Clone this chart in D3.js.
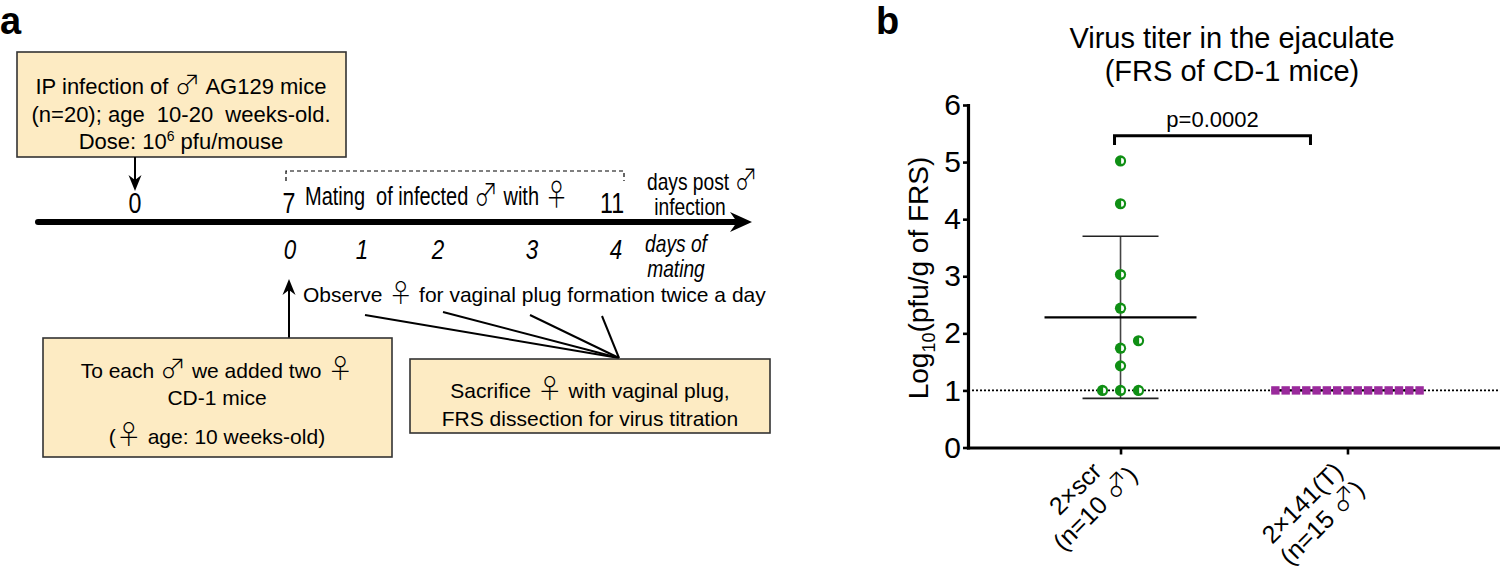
<!DOCTYPE html>
<html>
<head>
<meta charset="utf-8">
<script src="https://cdn.jsdelivr.net/npm/d3@7"></script>
<style>
body { margin: 0; background: #fff; }
text { font-family: "Liberation Sans", Arial, sans-serif; fill: #000; white-space: pre; }
.sym { font-family: "Noto Sans CJK JP", "DejaVu Sans", sans-serif; font-weight: 300; }
</style>
</head>
<body>
<svg id="fig" width="1500" height="572"></svg>
<script>
// ---- data (panel b) ----
var groupNames = ["2×scr", "2×141(T)"];
var groupLabels = [["2×scr", "(n=10 ♂)"], ["2×141(T)", "(n=15 ♂)"]];
var scrValues = [1.0, 1.0, 1.0, 1.43, 1.74, 1.87, 2.44, 3.03, 4.27, 5.02];
var t141Values = [1, 1, 1, 1, 1, 1, 1, 1, 1, 1, 1, 1, 1, 1, 1];
var yTicks = [0, 1, 2, 3, 4, 5, 6];
var detectionLimit = 1;
var pLabel = "p=0.0002";
var titleLines = ["Virus titer in the ejaculate", "(FRS of CD-1 mice)"];

// ---- text of the schematic (panel a) ----
var infectionLines = ["IP infection of ♂ AG129 mice", "(n=20); age  10-20  weeks-old.", "Dose: 10^6 pfu/mouse"];
var pairingLines = ["To each ♂ we added two ♀", "CD-1 mice", "(♀ age: 10 weeks-old)"];
var sacrificeLines = ["Sacrifice ♀ with vaginal plug,", "FRS dissection for virus titration"];
var matingDays = ["0", "1", "2", "3", "4"];

var svg = d3.select("#fig");

// writes a string into a text element, gender signs and ^superscripts as tspans
function richText(el, str, symSize) {
    var dy = 0;
    str.split(/([♂♀]|\^\d)/).forEach(function (s) {
        if (!s) return;
        var t;
        if (s === "♂" || s === "♀") {
            t = el.append("tspan").attr("class", "sym").style("font-size", symSize).text(s);
        } else if (s[0] === "^") {
            t = el.append("tspan").style("font-size", "14px").text(s.slice(1));
            dy -= 8;
        } else {
            t = el.append("tspan").text(s);
        }
        t.attr("dy", dy);
        dy = s[0] === "^" ? 8 : 0;
    });
    return el;
}

// condensed text, the schematic uses a narrow face
function narrowText(px, py, str, size, anchor, italic) {
    var t = svg.append("text").attr("transform", "translate(" + px + "," + py + ") scale(0.8,1)")
        .attr("text-anchor", anchor || "start").style("font-size", size);
    if (italic) t.style("font-style", "italic");
    return richText(t, str, (parseFloat(size) * 1.2) + "px");
}

function box(x0, y0, x1, y1) {
    svg.append("rect").attr("x", x0).attr("y", y0).attr("width", x1 - x0).attr("height", y1 - y0)
        .style("fill", "#fdebc3").style("stroke", "#333").style("stroke-width", 1.6);
}

function arrowHead(x, y, dir) {
    // dir: 1 points down, -1 points up, 0 points right
    var p = dir === 0 ? [[x, y], [x - 22, y - 10], [x - 15, y], [x - 22, y + 10]]
        : [[x, y], [x - 6.5, y - 16 * dir], [x, y - 11 * dir], [x + 6.5, y - 16 * dir]];
    svg.append("path").attr("d", "M" + p.join("L") + "Z").style("fill", "#000");
}

// ================= panel a =================
svg.append("text").attr("x", 0).attr("y", 34).style("font-size", "38px").style("font-weight", "bold").text("a");

box(17, 52, 346, 157);
infectionLines.forEach(function (l, i) {
    richText(svg.append("text").attr("x", 181).attr("y", 94 + i * 27.5).attr("text-anchor", "middle")
        .style("font-size", "22px"), l, "26px");
});
svg.append("line").attr("x1", 135).attr("x2", 135).attr("y1", 157).attr("y2", 186).style("stroke", "#000").style("stroke-width", 2);
arrowHead(135, 191, 1);

// main time line
svg.append("line").attr("x1", 38).attr("x2", 735).attr("y1", 222).attr("y2", 222)
    .style("stroke", "#000").style("stroke-width", 6).style("stroke-linecap", "round");
arrowHead(752, 222, 0);

// mating period bracket
svg.append("path").attr("d", "M286,181V171H624V181").style("fill", "none")
    .style("stroke", "#000").style("stroke-width", 1.2).style("stroke-dasharray", "4,3");

narrowText(135, 213, "0", "29px", "middle");
narrowText(289, 213, "7", "29px", "middle");
narrowText(305, 205, "Mating  of infected ♂ with ♀", "25px");
narrowText(612, 213, "11", "29px", "middle");
narrowText(647, 190, "days post ♂", "24px");
narrowText(690, 215, "infection", "24px", "middle");

var dayX = [290, 362, 438, 532, 616];
matingDays.forEach(function (d, i) {
    narrowText(dayX[i], 259, d, "28px", "middle", true);
});
narrowText(676, 252, "days of", "24px", "middle", true);
narrowText(676, 277, "mating", "24px", "middle", true);

// observation arrow and text
svg.append("line").attr("x1", 289).attr("x2", 289).attr("y1", 338).attr("y2", 290).style("stroke", "#000").style("stroke-width", 2);
arrowHead(289, 279, -1);
richText(svg.append("text").attr("x", 303).attr("y", 302).style("font-size", "21px"),
    "Observe ♀ for vaginal plug formation twice a day", "25px");

// fan of lines to the sacrifice box
[[365, 315], [443, 312], [530, 315], [602, 316]].forEach(function (p) {
    svg.append("line").attr("x1", p[0]).attr("y1", p[1]).attr("x2", 619).attr("y2", 358)
        .style("stroke", "#000").style("stroke-width", 2);
});

box(43, 338, 392, 457);
[378, 405, 444].forEach(function (y, i) {
    richText(svg.append("text").attr("x", 217).attr("y", y).attr("text-anchor", "middle").style("font-size", "21px"),
        pairingLines[i], "26px");
});

box(410, 359, 770, 433);
sacrificeLines.forEach(function (l, i) {
    richText(svg.append("text").attr("x", 590).attr("y", 398 + i * 28).attr("text-anchor", "middle").style("font-size", "21px"), l, "26px");
});

// ================= panel b =================
svg.append("text").attr("x", 876).attr("y", 34).style("font-size", "38px").style("font-weight", "bold").text("b");
titleLines.forEach(function (l, i) {
    svg.append("text").attr("x", 1232).attr("y", 48 + i * 33).attr("text-anchor", "middle").style("font-size", "29px").text(l);
});

var y = d3.scaleLinear().domain([0, 6]).range([447.5, 105]);
var x = d3.scalePoint().domain(groupNames).range([968, 1500]).padding(0.672);

// beeswarm-like spread of overlapping points
function swarm(values, step, minDist) {
    var placed = [];
    var order = [0];
    for (var i = 1; i < 20; i++) order.push(i, -i);
    return values.map(function (v) {
        var py = y(v), dx = 0;
        for (var k = 0; k < order.length; k++) {
            dx = order[k] * step;
            var ok = placed.every(function (p) { return Math.hypot(p.dx - dx, p.y - py) >= minDist; });
            if (ok) break;
        }
        placed.push({ dx: dx, y: py });
        return { v: v, dx: dx };
    });
}

var groups = [
    { name: groupNames[0], values: scrValues, pts: swarm(scrValues, 18, 12) },
    { name: groupNames[1], values: t141Values, pts: swarm(t141Values, 10.3, 10) }
];

// detection limit
svg.append("line").attr("x1", 968).attr("x2", 1500).attr("y1", y(detectionLimit)).attr("y2", y(detectionLimit))
    .style("stroke", "#000").style("stroke-width", 1.6).style("stroke-dasharray", "2,2");

// mean and SD
groups.forEach(function (g) {
    var cx = x(g.name), m = d3.mean(g.values), sd = d3.deviation(g.values);
    if (sd > 0) {
        svg.append("line").attr("x1", cx).attr("x2", cx).attr("y1", y(m - sd)).attr("y2", y(m + sd)).style("stroke", "#444").style("stroke-width", 1.6);
        [m - sd, m + sd].forEach(function (v) {
            svg.append("line").attr("x1", cx - 38).attr("x2", cx + 38).attr("y1", y(v)).attr("y2", y(v)).style("stroke", "#222").style("stroke-width", 1.6);
        });
    }
    svg.append("line").attr("x1", cx - 76).attr("x2", cx + 76).attr("y1", y(m)).attr("y2", y(m)).style("stroke", "#000").style("stroke-width", 2.2);
});

// points: half-open green circles and purple squares
var g1 = svg.append("g");
groups[0].pts.forEach(function (p) {
    var cx = x(groups[0].name) + p.dx, cy = y(p.v);
    g1.append("circle").attr("cx", cx).attr("cy", cy).attr("r", 5.6).style("fill", "#0f8f14");
    g1.append("path").attr("d", d3.arc()({ innerRadius: 0, outerRadius: 2.9, startAngle: 0, endAngle: Math.PI }))
        .attr("transform", "translate(" + (cx + 0.6) + "," + cy + ")").style("fill", "#fff");
});
var g2 = svg.append("g");
groups[1].pts.forEach(function (p) {
    var cx = x(groups[1].name) + p.dx, cy = y(p.v);
    g2.append("rect").attr("x", cx - 4.2).attr("y", cy - 4.2).attr("width", 8.4).attr("height", 8.4).style("fill", "#9a2a9c");
});

// axes
var yAxis = svg.append("g").attr("transform", "translate(968,0)")
    .call(d3.axisLeft(y).tickValues(yTicks).tickSize(5).tickSizeOuter(0).tickPadding(2).tickFormat(d3.format("d")));
var xAxis = svg.append("g").attr("transform", "translate(0," + y(0) + ")")
    .call(d3.axisBottom(x).tickSize(7).tickSizeOuter(0).tickFormat(""));
[yAxis, xAxis].forEach(function (a) {
    a.select(".domain").style("stroke-width", 3.2).style("stroke-linecap", "square");
    a.selectAll(".tick line").style("stroke-width", 2.6);
});
yAxis.selectAll(".tick text").style("font-size", "30px").style("font-family", "Liberation Sans, Arial, sans-serif");

// y label
var yl = svg.append("text").attr("transform", "translate(928,278) rotate(-90)").attr("text-anchor", "middle").style("font-size", "28px");
yl.append("tspan").text("Log");
yl.append("tspan").attr("dy", 7).style("font-size", "18px").text("10");
yl.append("tspan").attr("dy", -7).text("(pfu/g of FRS)");

// rotated category labels; the top-right of the line ends is pinned near each tick
groupLabels.forEach(function (lines, i) {
    var gl = svg.append("g").attr("transform", "rotate(-45)");
    lines.forEach(function (l, j) {
        richText(gl.append("text").attr("x", 0).attr("y", j * 28).attr("text-anchor", "middle").style("font-size", "25px"), l, "27px");
    });
    // measure only the last run of each line, so the tall sign glyph box does not count
    var rs = gl.selectAll("text").nodes().map(function (t) { return t.lastChild.getBoundingClientRect(); });
    var right = d3.max(rs, function (r) { return r.right; }), top = d3.min(rs, function (r) { return r.top; });
    var tx = x(groupNames[i]) + 22, ty = y(0) + 9;
    gl.attr("transform", "translate(" + (tx - right) + "," + (ty - top) + ") rotate(-45)");
});

// significance bracket
var bx0 = x(groupNames[0]) - 6, bx1 = x(groupNames[1]) - 37;
svg.append("path").attr("d", "M" + bx0 + "," + y(5.3) + "V" + y(5.46) + "H" + bx1 + "V" + y(5.3))
    .style("fill", "none").style("stroke", "#000").style("stroke-width", 3);
svg.append("text").attr("x", (bx0 + bx1) / 2).attr("y", 127).attr("text-anchor", "middle").style("font-size", "22px").text(pLabel);
</script>
</body>
</html>
